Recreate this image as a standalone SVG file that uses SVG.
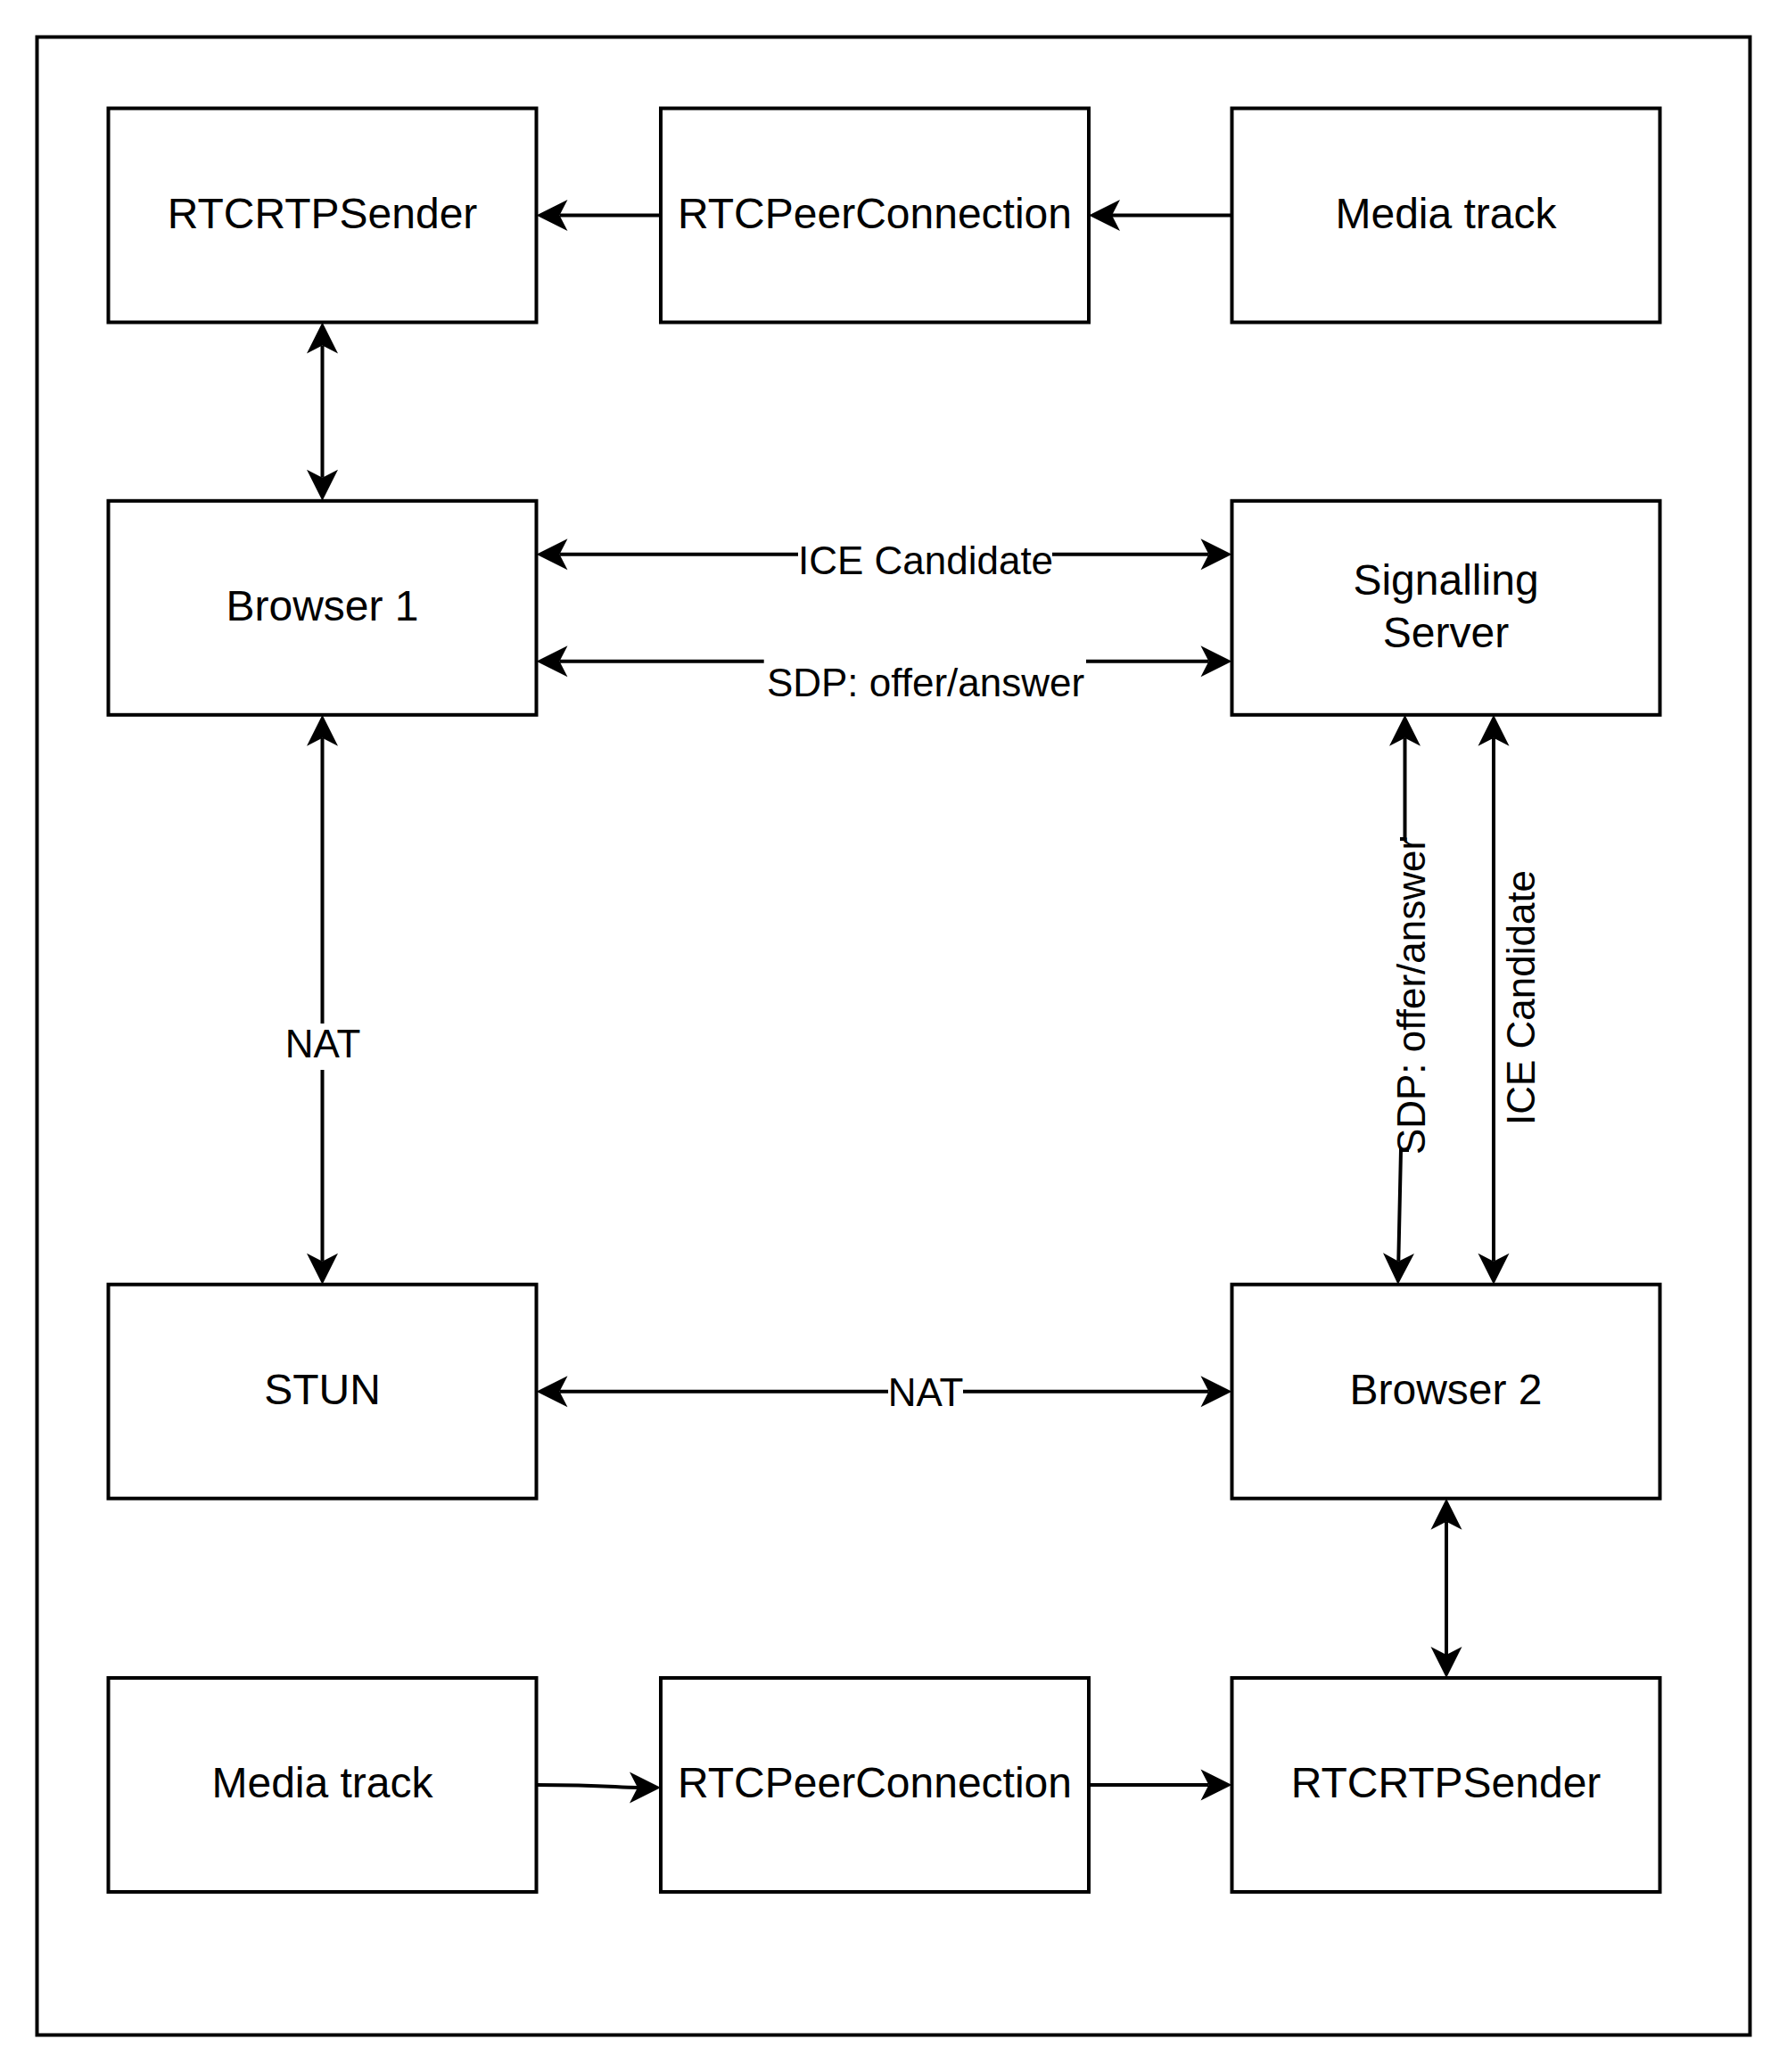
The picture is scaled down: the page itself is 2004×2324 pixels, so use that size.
<svg xmlns="http://www.w3.org/2000/svg" width="2004" height="2324" viewBox="0 0 2004 2324">
<style>
.box{fill:#fff;stroke:#000;stroke-width:4}
.frame{fill:none;stroke:#000;stroke-width:4}
.t{font-family:"Liberation Sans",Arial,sans-serif;font-size:48px;fill:#000;text-anchor:middle}
.l{font-family:"Liberation Sans",Arial,sans-serif;font-size:44px;fill:#000;text-anchor:middle}
.c{fill:none;stroke:#000;stroke-width:4}
.a{marker-end:url(#arr)}
.s{marker-start:url(#arr)}
</style>
<defs>
<marker id="arr" viewBox="0 -18 36 36" refX="9" refY="0" markerWidth="36" markerHeight="36" markerUnits="userSpaceOnUse" orient="auto-start-reverse" overflow="visible">
<path d="M0,-17.5 L35,0 L0,17.5 L9,0 Z" fill="#000"/>
</marker>
</defs>
<rect width="2004" height="2324" fill="#fff"/>
<rect class="frame" x="41.5" y="41.5" width="1921" height="2241"/>
<g id="connectors">
<path class="c a" d="M741,241.5 H627.5"/>
<path class="c a" d="M1381.5,241.5 H1247"/>
<path class="c s a" d="M361.5,387.5 V535.8"/>
<path class="c s" d="M627.5,621.8 H895"/>
<path class="c a" d="M1180,621.8 H1355.5"/>
<path class="c s" d="M627.5,741.8 H856.7"/>
<path class="c a" d="M1218,741.8 H1355.5"/>
<path class="c s" d="M361.5,827.8 V1148"/>
<path class="c a" d="M361.5,1200 V1414.7"/>
<path class="c s" d="M627.5,1560.7 H996"/>
<path class="c a" d="M1080,1560.7 H1355.5"/>
<path class="c s" d="M1575.5,827.8 V941 H1570"/>
<path class="c a" d="M1580,1290 H1571 L1568.3,1414.7"/>
<path class="c s a" d="M1675,827.8 V1414.7"/>
<path class="c s a" d="M1622,1706.7 V1856"/>
<path class="c a" d="M601.5,2002 C680,2002 690,2005 715,2005"/>
<path class="c a" d="M1221,2002 H1355.5"/>
<text class="l" x="1038" y="644">ICE Candidate</text>
<text class="l" x="1038" y="781">SDP: offer/answer</text>
<text class="l" x="362" y="1186">NAT</text>
<text class="l" x="1038" y="1577">NAT</text>
<text class="l" transform="translate(1598,1117) rotate(-90)">SDP: offer/answer</text>
<text class="l" transform="translate(1721,1119) rotate(-90)">ICE Candidate</text>
</g>
<g id="rtcrtpsender1"><rect class="box" x="121.5" y="121.5" width="480" height="240"/><text class="t" x="361.5" y="256">RTCRTPSender</text></g>
<g id="peer1"><rect class="box" x="741" y="121.5" width="480" height="240"/><text class="t" x="981" y="256">RTCPeerConnection</text></g>
<g id="media1"><rect class="box" x="1381.5" y="121.5" width="480" height="240"/><text class="t" x="1621.5" y="256">Media track</text></g>
<g id="browser1"><rect class="box" x="121.5" y="561.8" width="480" height="240"/><text class="t" x="361.5" y="696">Browser 1</text></g>
<g id="signalling"><rect class="box" x="1381.5" y="561.8" width="480" height="240"/><text class="t" x="1621.5" y="667">Signalling</text><text class="t" x="1621.5" y="726">Server</text></g>
<g id="stun"><rect class="box" x="121.5" y="1440.7" width="480" height="240"/><text class="t" x="361.5" y="1575">STUN</text></g>
<g id="browser2"><rect class="box" x="1381.5" y="1440.7" width="480" height="240"/><text class="t" x="1621.5" y="1575">Browser 2</text></g>
<g id="media2"><rect class="box" x="121.5" y="1882" width="480" height="240"/><text class="t" x="361.5" y="2016">Media track</text></g>
<g id="peer2"><rect class="box" x="741" y="1882" width="480" height="240"/><text class="t" x="981" y="2016">RTCPeerConnection</text></g>
<g id="rtcrtpsender2"><rect class="box" x="1381.5" y="1882" width="480" height="240"/><text class="t" x="1621.5" y="2016">RTCRTPSender</text></g>
</svg>
